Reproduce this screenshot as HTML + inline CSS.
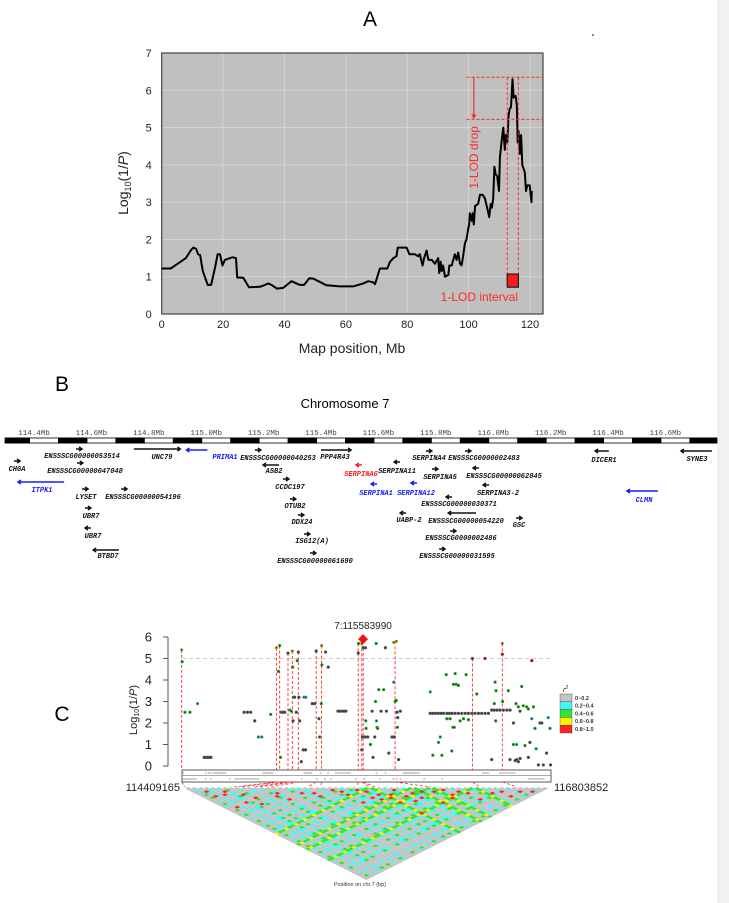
<!DOCTYPE html>
<html><head><meta charset="utf-8"><style>
html,body{margin:0;padding:0;background:#fff;}
svg{display:block;font-family:"Liberation Sans",sans-serif;}
.gl{font-family:"Liberation Mono",monospace;font-style:italic;font-weight:bold;font-size:7px;text-anchor:middle;}
</style></head><body>
<svg id="fig" width="729" height="903" viewBox="0 0 729 903" xmlns="http://www.w3.org/2000/svg">
<rect x="0" y="0" width="729" height="903" fill="#fff"/>
<rect x="717" y="0" width="12" height="903" fill="#f1f1f1"/>
<circle cx="593" cy="35" r="0.9" fill="#333"/>
<text x="370" y="26" font-size="21" text-anchor="middle">A</text>
<g id="pA"></g>
<text x="62" y="391" font-size="21" text-anchor="middle">B</text>
<text x="345" y="408" font-size="13" text-anchor="middle">Chromosome 7</text>
<g id="pB"></g>
<text x="62" y="721" font-size="21" text-anchor="middle">C</text>
<g id="pC"></g>
</svg>
<script>
const NS="http://www.w3.org/2000/svg";
function mk(parent,tag,attrs,txt){const e=document.createElementNS(NS,tag);for(const k in attrs)e.setAttribute(k,attrs[k]);if(txt!==undefined)e.textContent=txt;parent.appendChild(e);return e;}

/* ===== Panel A data ===== */
const lodPos=[0,2.9,4.9,7.9,9.4,10.3,11.2,11.9,12.5,13.4,15,16.1,17.4,18.2,19,19.8,20.6,22.3,23.1,24.2,24.6,26.6,28.4,32,33.7,34.7,35.8,37.5,39.6,42.3,45,46.4,48.1,49.4,53.7,58.1,62.4,65.7,67.3,68.9,69.5,71.1,73.5,74.4,75.5,76.5,76.9,79.8,80.7,82.5,83.6,84.1,85,85.5,86.3,86.9,88,89,90.1,90.4,90.9,91.2,91.7,92.3,93.4,93.7,94.5,95.5,96.1,96.6,97.2,97.7,98.3,98.8,99.3,99.9,100.2,100.4,101,101.3,101.7,102.1,103.1,103.7,104.6,105.3,106.2,106.7,107.2,107.6,108,108.4,108.8,109.3,109.9,110.2,110.7,111.3,111.8,112.1,112.6,113,113.4,113.8,114.3,114.7,115.3,115.7,116,116.3,116.7,117.1,117.5,118.3,118.7,119.1,119.9,120.5,120.6];
const lodVal=[1.22,1.22,1.33,1.5,1.7,1.78,1.75,1.6,1.58,1.15,0.78,0.78,1.25,1.6,1.6,1.3,1.45,1.5,1.52,1.5,0.98,0.97,0.72,0.73,0.78,0.82,0.78,0.68,0.7,0.88,0.78,0.78,0.96,0.95,0.77,0.74,0.74,0.82,0.88,0.85,0.8,1.22,1.22,1.4,1.5,1.55,1.78,1.78,1.6,1.6,1.55,1.6,1.3,1.5,1.7,1.45,1.45,1.35,1.5,1.1,1.4,1.15,1.3,1.0,1.05,1.3,1.3,1.6,1.45,1.65,1.35,1.3,1.6,1.9,2.0,2.3,2.4,2.7,2.5,2.7,2.4,2.9,2.95,3.2,3.2,3.1,2.8,2.6,2.95,2.85,3.1,3.95,3.75,3.7,3.3,4.2,4.6,5.0,4.4,4.8,4.6,5.3,5.5,5.55,6.3,5.8,5.85,5.6,4.6,4.9,4.3,4.8,4.0,3.8,3.3,3.45,3.45,3.0,3.3];
const aXTicks=[0,20,40,60,80,100,120];
const aYTicks=[0,1,2,3,4,5,6,7];
const lodPeak=6.35, lodDrop=5.22, intervalStart=112.6, intervalEnd=116.2;
const intervalMarkTop=1.07, intervalMarkBottom=0.72;

/* ===== Panel B data ===== */
const bTicks=[114.4,114.6,114.8,115.0,115.2,115.4,115.6,115.8,116.0,116.2,116.4,116.6];
const geneNames=["CHGA","ENSSSCG00000053514","ENSSSCG00000047048","UNC79","PRIMA1","ITPK1","LYSET","ENSSSCG00000054196","UBR7","UBR7","BTBD7","ENSSSCG00000040253","ASB2","CCDC197","OTUB2","DDX24","ISG12(A)","ENSSSCG00000061690","PPP4R43","SERPINA6","SERPINA11","SERPINA1","SERPINA12","SERPINA4","ENSSSCG0000002483","SERPINA5","ENSSSCG00000062845","SERPINA3-2","ENSSSCG00000030371","UABP-2","ENSSSCG00000054220","GSC","ENSSSCG0000002486","ENSSSCG00000031595","DICER1","SYNE3","CLMN"];
const geneStart=[114.341,114.557,114.560,114.748,114.931,114.344,114.578,114.714,114.588,114.588,114.606,115.180,115.198,115.278,115.302,115.330,115.351,115.372,115.400,115.532,115.665,115.585,115.724,115.776,115.912,115.797,115.940,115.975,115.846,115.686,115.843,116.090,115.860,115.822,116.355,116.654,116.466];
const geneEnd=  [114.341,114.557,114.560,114.910,115.004,114.505,114.578,114.714,114.588,114.588,114.696,115.180,115.254,115.278,115.302,115.330,115.351,115.372,115.505,115.532,115.665,115.585,115.724,115.776,115.912,115.797,115.940,115.975,115.846,115.686,115.940,116.090,115.860,115.822,116.403,116.762,116.574];
const geneStrand=[1,1,1,1,-1,-1,1,1,1,-1,-1,1,-1,1,1,1,1,1,1,-1,-1,-1,-1,1,1,1,-1,-1,-1,-1,-1,1,1,1,-1,-1,-1];
const geneColor=["k","k","k","k","b","b","k","k","k","k","k","k","k","k","k","k","k","k","k","r","k","b","b","k","k","k","k","k","k","k","k","k","k","k","k","k","b"];
/* layout (px): arrow row y, label centre x, label y */
const geneRowY=[461,449,463,449,450,482,489,489,508,528,550,450,465,479,499,515,534,553,450,465,462,484,483,451,451,469,468,485,497,513,513,518,531,549,451,451,491];
const geneLabX=[17,82,85,162,225,42,86,143,91,93,108,278,274,290,295,302,312,315,335,361,397,376,416,429,484,440,504,498,459,409,466,519,461,457,604,697,644];
const geneLabY=[469,456,471,457,457,490,497,497,516,536,556,458,471,487,506,522,541,561,457,474,471,493,493,458,458,477,476,493,504,520,521,525,538,556,460,459,500];

/* ===== Panel C data ===== */
const cStart=114.409165, cEnd=116.803852;
const cYTicks=[0,1,2,3,4,5,6];
const snpPos=[114.407,114.410,114.428,114.461,114.510,114.553,114.564,114.575,114.586,114.597,114.812,114.834,114.855,114.881,114.905,114.927,114.985,115.022,115.035,115.043,115.048,115.054,115.065,115.076,115.097,115.110,115.119,115.125,115.127,115.130,115.132,115.140,115.151,115.157,115.164,115.168,115.173,115.183,115.196,115.211,115.201,115.213,115.254,115.270,115.280,115.298,115.302,115.315,115.317,115.313,115.341,115.358,115.421,115.433,115.447,115.460,115.473,115.553,115.555,115.576,115.576,115.580,115.585,115.600,115.602,115.604,115.598,115.615,115.632,115.643,115.649,115.660,115.665,115.669,115.671,115.675,115.679,115.686,115.718,115.701,115.729,115.736,115.751,115.772,115.783,115.787,115.792,115.800,115.783,115.800,115.805,115.809,115.807,115.815,115.826,116.020,116.037,116.054,116.072,116.089,116.106,116.128,116.145,116.162,116.182,116.203,116.225,116.247,116.268,116.290,116.311,116.333,116.354,116.376,116.398,116.419,116.436,116.454,116.473,116.495,116.517,116.538,116.020,116.037,116.074,116.085,116.096,116.124,116.128,116.149,116.160,116.167,116.176,116.171,116.182,116.188,116.203,116.214,116.236,116.253,116.268,116.294,116.322,116.376,116.419,116.441,116.436,116.445,116.447,116.488,116.488,116.490,116.527,116.538,116.560,116.577,116.581,116.592,116.603,116.560,116.571,116.581,116.592,116.603,116.614,116.624,116.635,116.646,116.657,116.657,116.679,116.679,116.690,116.700,116.707,116.667,116.722,116.733,116.744,116.754,116.775,116.786,116.797,116.801];
const snpLogP=[5.4,4.85,2.5,2.5,2.9,0.4,0.4,0.4,0.4,0.4,2.5,2.5,2.5,2.1,1.35,1.35,2.4,5.5,4.4,5.6,0.4,2.5,2.5,2.5,5.25,2.6,2.55,5.35,4.6,2.1,3.2,3.2,2.5,4.9,5.3,3.2,2.1,0.2,0.75,0.75,3.2,3.2,2.9,2.9,5.35,2.2,1.35,5.6,4.7,2.9,5.3,4.6,2.55,2.55,2.55,2.55,2.55,5.25,5.7,5.7,0.75,1.35,5.5,5.5,2.1,1.75,1.35,1.35,1.0,2.55,0.4,1.35,3.0,5.7,2.1,1.8,1.75,3.55,3.55,2.55,5.5,2.55,0.6,1.35,3.9,1.35,3.0,3.05,5.75,5.8,2.5,2.25,1.8,0.3,2.55,2.45,2.45,2.45,2.45,2.45,2.45,2.45,2.45,2.45,2.45,2.45,2.45,2.45,2.45,2.45,2.45,2.45,2.45,2.45,2.45,2.6,2.6,2.6,2.6,2.6,2.6,2.6,3.45,0.5,1.1,1.35,0.5,4.25,2.2,2.2,0.7,1.8,1.8,3.8,4.3,3.8,3.75,2.1,2.2,4.25,2.15,5.0,3.35,5.0,0.3,3.9,2.9,2.1,3.5,5.2,5.7,3.0,3.5,0.3,1.0,2.9,1.0,2.75,2.55,2.0,0.25,0.3,0.2,0.35,3.7,2.8,0.95,2.75,2.65,0.4,2.2,4.9,2.75,1.75,0.8,1.1,0.05,2.0,2.0,0.05,0.6,2.25,1.75,0.05];
const snpR2Class=[3,2,2,2,1,0,0,0,0,0,0,0,0,0,1,1,2,3,2,2,2,0,0,0,0,2,2,3,2,0,2,0,0,2,0,0,0,0,0,0,1,1,0,0,0,0,2,3,2,2,0,0,0,0,0,0,0,0,2,3,0,0,0,0,2,2,0,0,2,0,0,0,2,2,1,2,2,2,2,0,0,0,0,0,1,0,2,2,3,3,0,0,2,0,0,0,0,0,0,0,0,0,0,0,0,0,0,0,0,0,0,0,0,0,0,0,0,0,0,0,0,0,1,2,1,1,2,2,2,2,2,2,2,2,2,2,2,2,2,2,2,0,2,4,0,2,2,2,2,4,3,2,2,0,2,2,1,2,0,0,0,0,0,0,2,2,2,2,2,0,1,4,2,2,2,0,0,0,0,0,0,1,2,0];
const leadPos=115.583990, leadLogP=5.9;
const hitPos=[114.407,115.022,115.043,115.097,115.125,115.164,115.280,115.315,115.553,115.576,115.585,115.792,116.294,116.488];
const hitLogP=[5.4,5.5,5.6,5.25,5.35,5.3,5.35,5.6,5.7,5.7,5.5,5.8,5.0,5.7];
const hitLDIndex=[0,8,9,11,12,14,20,22,28,30,31,40,48,54];
const r2Labels=["0~0.2","0.2~0.4","0.4~0.6","0.6~0.8","0.8~1.0"];
const r2Colors=["#c3c3c3","#3ff7f7","#2fe52f","#f4f400","#ff2323"];
const dotColors=["#555","#2aa","#2a2","#aa2","#c22"];
const ldGroup="..A.BA.CAB..CD.A.DCE.D.EFE.FGFRG.HFHGR.HRIHIJ.IRJ.K.JK.LK.L.";
const ldBg="020101202010210020120102012021002101200201021020102012001020";

/* ===== Panel A render ===== */
(function(){
const g=document.getElementById('pA');
const L=161.7,R=543,T=53,B=314;
const X=v=>L+v*(530-161.7)/120, Y=v=>B-v*(B-T)/7;
mk(g,'rect',{x:L,y:T,width:R-L,height:B-T,fill:'#c0c0c0',});
aXTicks.forEach(t=>{ if(t>0){const l=mk(g,'line',{x1:X(t),x2:X(t),y1:T,y2:B,stroke:'#d6d6d6','stroke-width':0.8});}
 const tx=mk(g,'text',{x:X(t),y:B+14,'font-size':11,'text-anchor':'middle',fill:'#222'},String(t));});
aYTicks.forEach(t=>{ if(t>0&&t<7){const l=mk(g,'line',{x1:L,x2:R,y1:Y(t),y2:Y(t),stroke:'#d6d6d6','stroke-width':0.8});}
 const tx=mk(g,'text',{x:L-10,y:Y(t)+4,'font-size':11,'text-anchor':'end',fill:'#222'},String(t));});
const fr=mk(g,'rect',{x:L,y:T,width:R-L,height:B-T,fill:'none',stroke:'#444','stroke-width':1.2});
const d=lodPos.map((p,i)=>(i?'L':'M')+X(p).toFixed(1)+','+Y(lodVal[i]).toFixed(1)).join('');
const ln=mk(g,'path',{d:d,fill:'none',stroke:'#000','stroke-width':2,'stroke-linejoin':'round'});
const dash={stroke:'#ff2a2a','stroke-width':1,'stroke-dasharray':'3,2',fill:'none'};
[[X(99.3),Y(lodPeak),R,Y(lodPeak),'peak-line'],[X(99.3),Y(lodDrop),R,Y(lodDrop),'drop-line'],[X(intervalStart),Y(lodPeak),X(intervalStart),Y(0.74),'interval-left-line'],[X(intervalEnd),Y(lodPeak),X(intervalEnd),Y(0.74),'interval-right-line']].forEach(a=>{const l=mk(g,'line',Object.assign({x1:a[0],y1:a[1],x2:a[2],y2:a[3]},dash));});
const ax=X(101.7);
const ar=mk(g,'line',{x1:ax,y1:Y(lodPeak),x2:ax,y2:Y(lodDrop)-3,stroke:'#ff2a2a','stroke-width':1.2});
const ah=mk(g,'path',{d:`M${ax-2.5},${Y(lodDrop)-5}L${ax+2.5},${Y(lodDrop)-5}L${ax},${Y(lodDrop)}Z`,fill:'#ff2a2a'});
const bx=mk(g,'rect',{x:X(intervalStart),y:Y(intervalMarkTop),width:X(intervalEnd)-X(intervalStart),height:Y(intervalMarkBottom)-Y(intervalMarkTop),fill:'#ff1a1a',stroke:'#222','stroke-width':1.3});
const t1=mk(g,'text',{x:0,y:0,'font-size':12,fill:'#ff2a2a','text-anchor':'middle',transform:`translate(${ax+4},${Y(4.2)}) rotate(-90)`},'1-LOD drop');
const t2=mk(g,'text',{x:X(103.5),y:Y(0.45)+4,'font-size':12,fill:'#ff2a2a','text-anchor':'middle'},'1-LOD interval');
const xt=mk(g,'text',{x:352,y:353,'font-size':14,'text-anchor':'middle',fill:'#222'},'Map position, Mb');
const yt=mk(g,'text',{x:0,y:0,'font-size':14,'text-anchor':'middle',fill:'#222',transform:'translate(128,183) rotate(-90)'});
yt.innerHTML='Log<tspan font-size="9" dy="3">10</tspan><tspan dy="-3">(1/</tspan><tspan font-style="italic">P</tspan>)';
})();

/* ===== Panel B render ===== */
(function(){
const g=document.getElementById('pB');
const MX=v=>34+(v-114.4)/0.2*57.4;
const by=438;
const bar=mk(g,'rect',{x:5,y:by,width:712,height:5,fill:'#fff',stroke:'#000','stroke-width':0.8});
for(let k=-1;k<12;k++){let x0=Math.max(5,58+57.4*k),x1=Math.min(717,58+57.4*k+29.4);if(k<0){x0=5;x1=30;}
 if(x1>x0){const s=mk(g,'rect',{x:x0,y:by-0.5,width:x1-x0,height:6,fill:'#000'});}}
bTicks.forEach(t=>{const tx=mk(g,'text',{x:MX(t),y:by-3,'font-size':7.5,'text-anchor':'middle',fill:'#444','font-family':'Liberation Mono, monospace'},t.toFixed(1)+'Mb');});
const cmap={k:'#111',b:'#1a1aff',r:'#ff1a1a'};
geneNames.forEach((n,i)=>{
 const col=cmap[geneColor[i]];const y=geneRowY[i];
 let x1=MX(geneStart[i]),x2=MX(geneEnd[i]);
 if(x2-x1<4){const c=(x1+x2)/2;x1=c-3;x2=c+3;}
 const tip=geneStrand[i]>0?x2:x1, dir=geneStrand[i]>0?-1:1;
 const a=mk(g,'path',{d:`M${x1},${y}L${x2},${y}M${tip+dir*3},${y-2}L${tip},${y}L${tip+dir*3},${y+2}`,stroke:col,'stroke-width':1.4,fill:'none'});
 
 const t=mk(g,'text',{x:geneLabX[i],y:geneLabY[i]+2,class:'gl',fill:col},n);
 
});
})();

/* ===== Panel C render ===== */
(function(){
const g=document.getElementById('pC');
const L=182,R=551,Y0=766,Y6=637;
const X=v=>L+(v-cStart)/(cEnd-cStart)*(R-L), Y=v=>Y0-v*(Y0-Y6)/6;
const ax=mk(g,'line',{x1:168,x2:168,y1:Y(6),y2:Y(0),stroke:'#555','stroke-width':1});
cYTicks.forEach(t=>{const l=mk(g,'line',{x1:163,x2:168,y1:Y(t),y2:Y(t),stroke:'#555','stroke-width':1});
 const tx=mk(g,'text',{x:152,y:Y(t)+4.5,'font-size':13,'text-anchor':'end',fill:'#222'},String(t));});
const yt=mk(g,'text',{x:0,y:0,'font-size':11,'text-anchor':'middle',fill:'#222',transform:'translate(137,710) rotate(-90)'});
yt.innerHTML='Log<tspan font-size="7" dy="2">10</tspan><tspan dy="-2">(1/</tspan><tspan font-style="italic">P</tspan>)';
const th=mk(g,'line',{x1:L,x2:R,y1:Y(5),y2:Y(5),stroke:'#bbb','stroke-width':0.8,'stroke-dasharray':'4,3'});
const tr=mk(g,'rect',{x:L,y:770,width:R-L,height:12,fill:'#fff',stroke:'#333','stroke-width':0.8});
const tm=mk(g,'line',{x1:L,x2:R,y1:775.5,y2:775.5,stroke:'#555','stroke-width':0.5});
geneStart.forEach((s,i)=>{const x1=X(Math.max(cStart,s)),x2=Math.max(X(geneEnd[i]),x1+2);if(x2<L||x1>R)return;const row=i%2?779:773;
 const gl=mk(g,'line',{x1:Math.max(L,x1),x2:Math.min(R,x2),y1:row,y2:row,stroke:'#888','stroke-width':0.8});});
const N=ldGroup.length, w=(R-L)/N;
hitPos.forEach((p,i)=>{const l=mk(g,'line',{x1:X(p),x2:X(p),y1:Y(hitLogP[i]),y2:770,stroke:'#ff2a2a','stroke-width':0.9,'stroke-dasharray':'3,2'});
 const c=mk(g,'line',{x1:X(p),x2:L+(hitLDIndex[i]+0.5)*w,y1:782,y2:787,stroke:'#ff2a2a','stroke-width':0.8,'stroke-dasharray':'3,2'});});
snpPos.forEach((p,i)=>{const c=mk(g,'circle',{cx:X(p),cy:Y(snpLogP[i]),r:1.2,fill:'#333',stroke:dotColors[snpR2Class[i]],'stroke-width':0.8});});
const lx=X(leadPos),ly=Y(leadLogP);
const dm=mk(g,'path',{d:`M${lx},${ly-5}L${lx+5},${ly}L${lx},${ly+5}L${lx-5},${ly}Z`,fill:'#ee1111'});
const lt=mk(g,'text',{x:lx,y:629,'font-size':10,'text-anchor':'middle',fill:'#222'},'7:115583990');
const s1=mk(g,'text',{x:180,y:791,'font-size':11,'text-anchor':'end',fill:'#222'},String(Math.round(cStart*1e6)));
const s2=mk(g,'text',{x:554,y:791,'font-size':11,'text-anchor':'start',fill:'#222'},String(Math.round(cEnd*1e6)));
const hm=mk(g,'g',{});
const h=186/N, top=787;
for(let i=0;i<N;i++)for(let j=i+1;j<N;j++){
 let cls;const gi=ldGroup[i],gj=ldGroup[j];
 if(gi!=='.'&&gi===gj)cls=4;else if(gi==='R'||gj==='R')cls=(j-i)%3?2:3;else cls=Math.min(+ldBg[i],+ldBg[j]);
 const cx=L+(i+j+1)/2*w, cy=top+(j-i-0.5)*h/2+h/4;
 const p=mk(hm,'path',{d:`M${cx.toFixed(2)},${(cy-h/2).toFixed(2)}L${(cx+w/2).toFixed(2)},${cy.toFixed(2)}L${cx.toFixed(2)},${(cy+h/2).toFixed(2)}L${(cx-w/2).toFixed(2)},${cy.toFixed(2)}Z`,fill:r2Colors[cls]});
 
 
}
const pl=mk(g,'text',{x:360,y:886,'font-size':5.5,'text-anchor':'middle',fill:'#333'},'Position on chr.7 (bp)');
const lg=mk(g,'g',{});
const r2t=mk(lg,'text',{x:563,y:692,'font-size':7,fill:'#333','font-style':'italic'});
r2t.innerHTML='r<tspan font-size="5" dy="-3">2</tspan>';
r2Labels.forEach((lab,k)=>{const y=694+k*7.8;
 const b=mk(lg,'rect',{x:560,y:y,width:12,height:7.8,fill:r2Colors[k],stroke:'#444','stroke-width':0.4});
 const t=mk(lg,'text',{x:575,y:y+5.8,'font-size':5.5,'font-weight':'bold',fill:'#333'},lab);});
})();
</script>
</body></html>
